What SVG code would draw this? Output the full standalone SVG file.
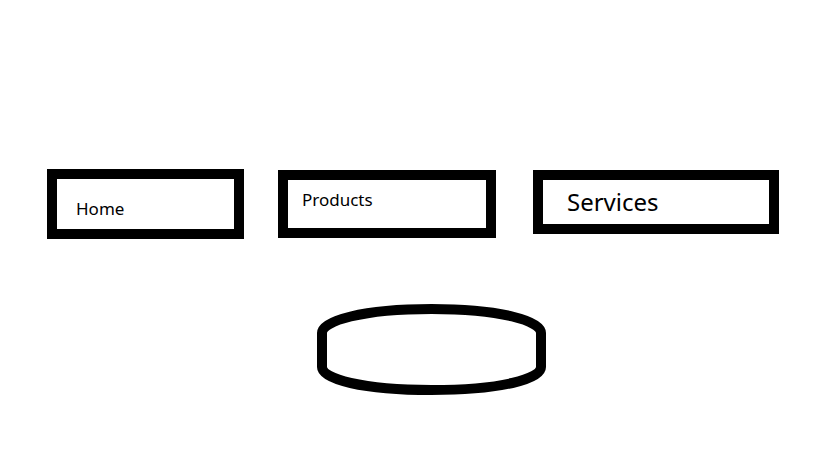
<svg xmlns="http://www.w3.org/2000/svg" width="828" height="456" viewBox="0 0 828 456">
<style>
.box{fill:#fff;stroke:#000;stroke-width:10}
.lbl{font-family:"Noto Sans","Open Sans",sans-serif;fill:#000}
</style>
<rect width="828" height="456" fill="#fff"/>
<g id="connectors"></g>
<g id="home">
<rect class="box" x="52" y="174" width="187" height="60"/>
<text class="lbl" x="76" y="215" font-size="17">Home</text>
</g>
<g id="products">
<rect class="box" x="283" y="175" width="208" height="58"/>
<text class="lbl" x="302" y="206" font-size="17">Products</text>
</g>
<g id="services">
<rect class="box" x="538" y="175" width="236" height="54"/>
<text class="lbl" x="567" y="211" font-size="24">Services</text>
</g>
<g id="shape">
<path class="box" d="M322,333 C322,321 362,309 431.5,309 C501,309 541,321 541,333 L541,367 C541,379 501,390 431.5,390 C362,390 322,379 322,367 Z"/>
</g>
</svg>
